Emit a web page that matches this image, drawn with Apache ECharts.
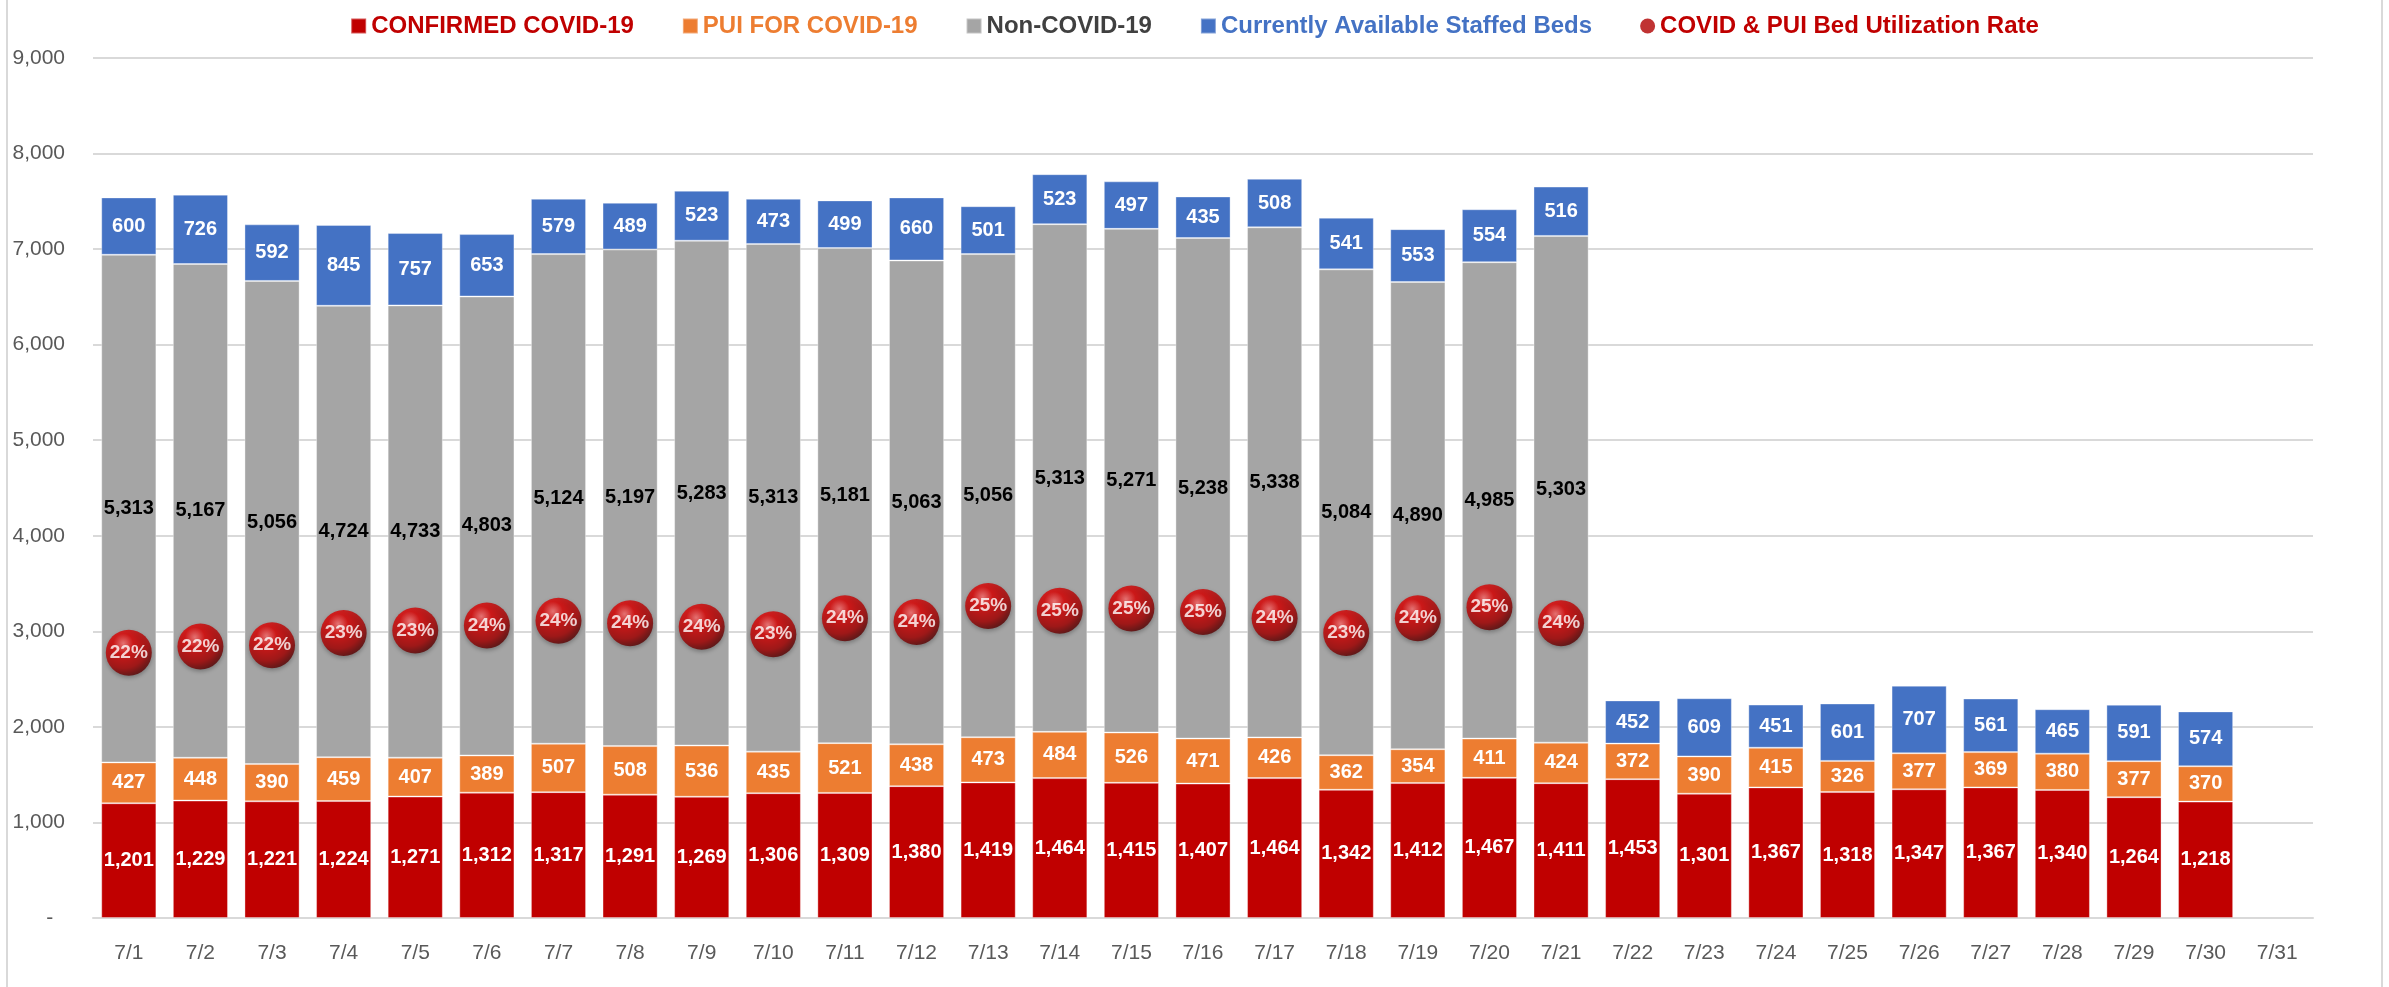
<!DOCTYPE html>
<html>
<head>
<meta charset="utf-8">
<script src="https://cdn.jsdelivr.net/npm/echarts@6/dist/echarts.min.js"></script>
<style>
html, body { margin: 0; padding: 0; background: #fff; }
#main { width: 2389px; height: 987px; }
</style>
</head>
<body>
<div id="main"></div>
<script>
// days of July
var days = ['7/1','7/2','7/3','7/4','7/5','7/6','7/7','7/8','7/9','7/10','7/11','7/12','7/13','7/14','7/15','7/16',
	'7/17','7/18','7/19','7/20','7/21','7/22','7/23','7/24','7/25','7/26','7/27','7/28','7/29','7/30','7/31'];

var confirmed = [1201,1229,1221,1224,1271,1312,1317,1291,1269,1306,1309,1380,1419,1464,1415,1407,
	1464,1342,1412,1467,1411,1453,1301,1367,1318,1347,1367,1340,1264,1218,null];
var pui = [427,448,390,459,407,389,507,508,536,435,521,438,473,484,526,471,
	426,362,354,411,424,372,390,415,326,377,369,380,377,370,null];
var nonCovid = [5313,5167,5056,4724,4733,4803,5124,5197,5283,5313,5181,5063,5056,5313,5271,5238,
	5338,5084,4890,4985,5303,null,null,null,null,null,null,null,null,null,null];
var staffedBeds = [600,726,592,845,757,653,579,489,523,473,499,660,501,523,497,435,
	508,541,553,554,516,452,609,451,601,707,561,465,591,574,null];
// utilization rate (only 7/1 - 7/21 shown)
var utilRate = [0.216,0.221,0.222,0.232,0.234,0.238,0.242,0.240,0.237,0.231,0.244,0.241,0.254,0.250,0.252,0.249,
	0.244,0.232,0.244,0.253,0.240,null,null,null,null,null,null,null,null,null,null];

var yTicks = { min: 0, max: 9000, interval: 1000 };

var FONT = '"Liberation Sans", Arial, sans-serif';

function fmt(v) {
	return v.toLocaleString('en-US');
}

function barSeries(name, data, color, labelColor) {
	return {
		name: name,
		type: 'bar',
		stack: 'beds',
		data: data,
		barCategoryGap: '23%',
		itemStyle: { color: color, borderColor: 'rgba(255,255,255,0.35)', borderWidth: 1 },
		label: {
			show: true,
			position: 'inside',
			color: labelColor,
			fontFamily: FONT,
			fontWeight: 'bold',
			fontSize: 20,
			formatter: function (p) { return p.value == null ? '' : fmt(p.value); }
		}
	};
}

var sphere = {
	type: 'radial', x: 0.38, y: 0.3, r: 0.72,
	colorStops: [
		{ offset: 0, color: '#ff7070' },
		{ offset: 0.3, color: '#e00000' },
		{ offset: 0.75, color: '#a80000' },
		{ offset: 1, color: '#5a0000' }
	]
};

var myChart = echarts.init(document.getElementById('main'));
var option = {
	backgroundColor: '#fff',
	animation: false,
	graphic: [{
		type: 'rect',
		shape: { x: 7, y: -5, width: 2375, height: 1000 },
		style: { fill: 'none', stroke: '#d9d9d9', lineWidth: 2 },
		silent: true
	}],
	legend: {
		top: 9,
		left: 'center',
		itemGap: 48,
		itemWidth: 15,
		itemHeight: 15,
		textStyle: { fontFamily: FONT, fontWeight: 'bold', fontSize: 24 },
		data: [
			{ name: 'CONFIRMED COVID-19', icon: 'rect', textStyle: { color: '#C00000' } },
			{ name: 'PUI FOR COVID-19', icon: 'rect', textStyle: { color: '#ED7D31' } },
			{ name: 'Non-COVID-19', icon: 'rect', textStyle: { color: '#404040' } },
			{ name: 'Currently Available Staffed Beds', icon: 'rect', textStyle: { color: '#4472C4' } },
			{ name: 'COVID & PUI Bed Utilization Rate', icon: 'circle', itemStyle: { color: '#b00000' }, textStyle: { color: '#C00000' } }
		]
	},
	grid: { left: 93, right: 76, top: 58, bottom: 69 },
	xAxis: {
		type: 'category',
		data: days,
		axisTick: { show: false },
		axisLine: { lineStyle: { color: '#d9d9d9', width: 2 } },
		axisLabel: { color: '#595959', fontFamily: FONT, fontSize: 21, margin: 25 }
	},
	yAxis: [{
		type: 'value',
		min: yTicks.min,
		max: yTicks.max,
		interval: yTicks.interval,
		axisLine: { show: false },
		axisTick: { show: false },
		splitLine: { lineStyle: { color: '#d9d9d9', width: 2 } },
		axisLabel: {
			color: '#595959', fontFamily: FONT, fontSize: 21, margin: 28,
			formatter: function (v) { return v === 0 ? '-  ' : fmt(v); }
		}
	}, {
		type: 'value',
		min: 0,
		max: 0.7,
		show: false,
		splitLine: { show: false }
	}],
	series: [
		barSeries('CONFIRMED COVID-19', confirmed, '#C00000', '#fff'),
		barSeries('PUI FOR COVID-19', pui, '#ED7D31', '#fff'),
		barSeries('Non-COVID-19', nonCovid, '#A5A5A5', '#000'),
		barSeries('Currently Available Staffed Beds', staffedBeds, '#4472C4', '#fff'),
		{
			name: 'COVID & PUI Bed Utilization Rate',
			type: 'scatter',
			yAxisIndex: 1,
			data: utilRate,
			symbol: 'circle',
			symbolSize: 46,
			z: 5,
			itemStyle: {
				color: sphere,
				shadowColor: 'rgba(0,0,0,0.35)',
				shadowBlur: 4,
				shadowOffsetY: 2
			},
			label: {
				show: true,
				position: 'inside',
				color: '#fff',
				fontFamily: FONT,
				fontWeight: 'bold',
				fontSize: 19,
				formatter: function (p) { return Math.round(p.value * 100) + '%'; }
			}
		}
	]
};
myChart.setOption(option);
</script>
</body>
</html>
